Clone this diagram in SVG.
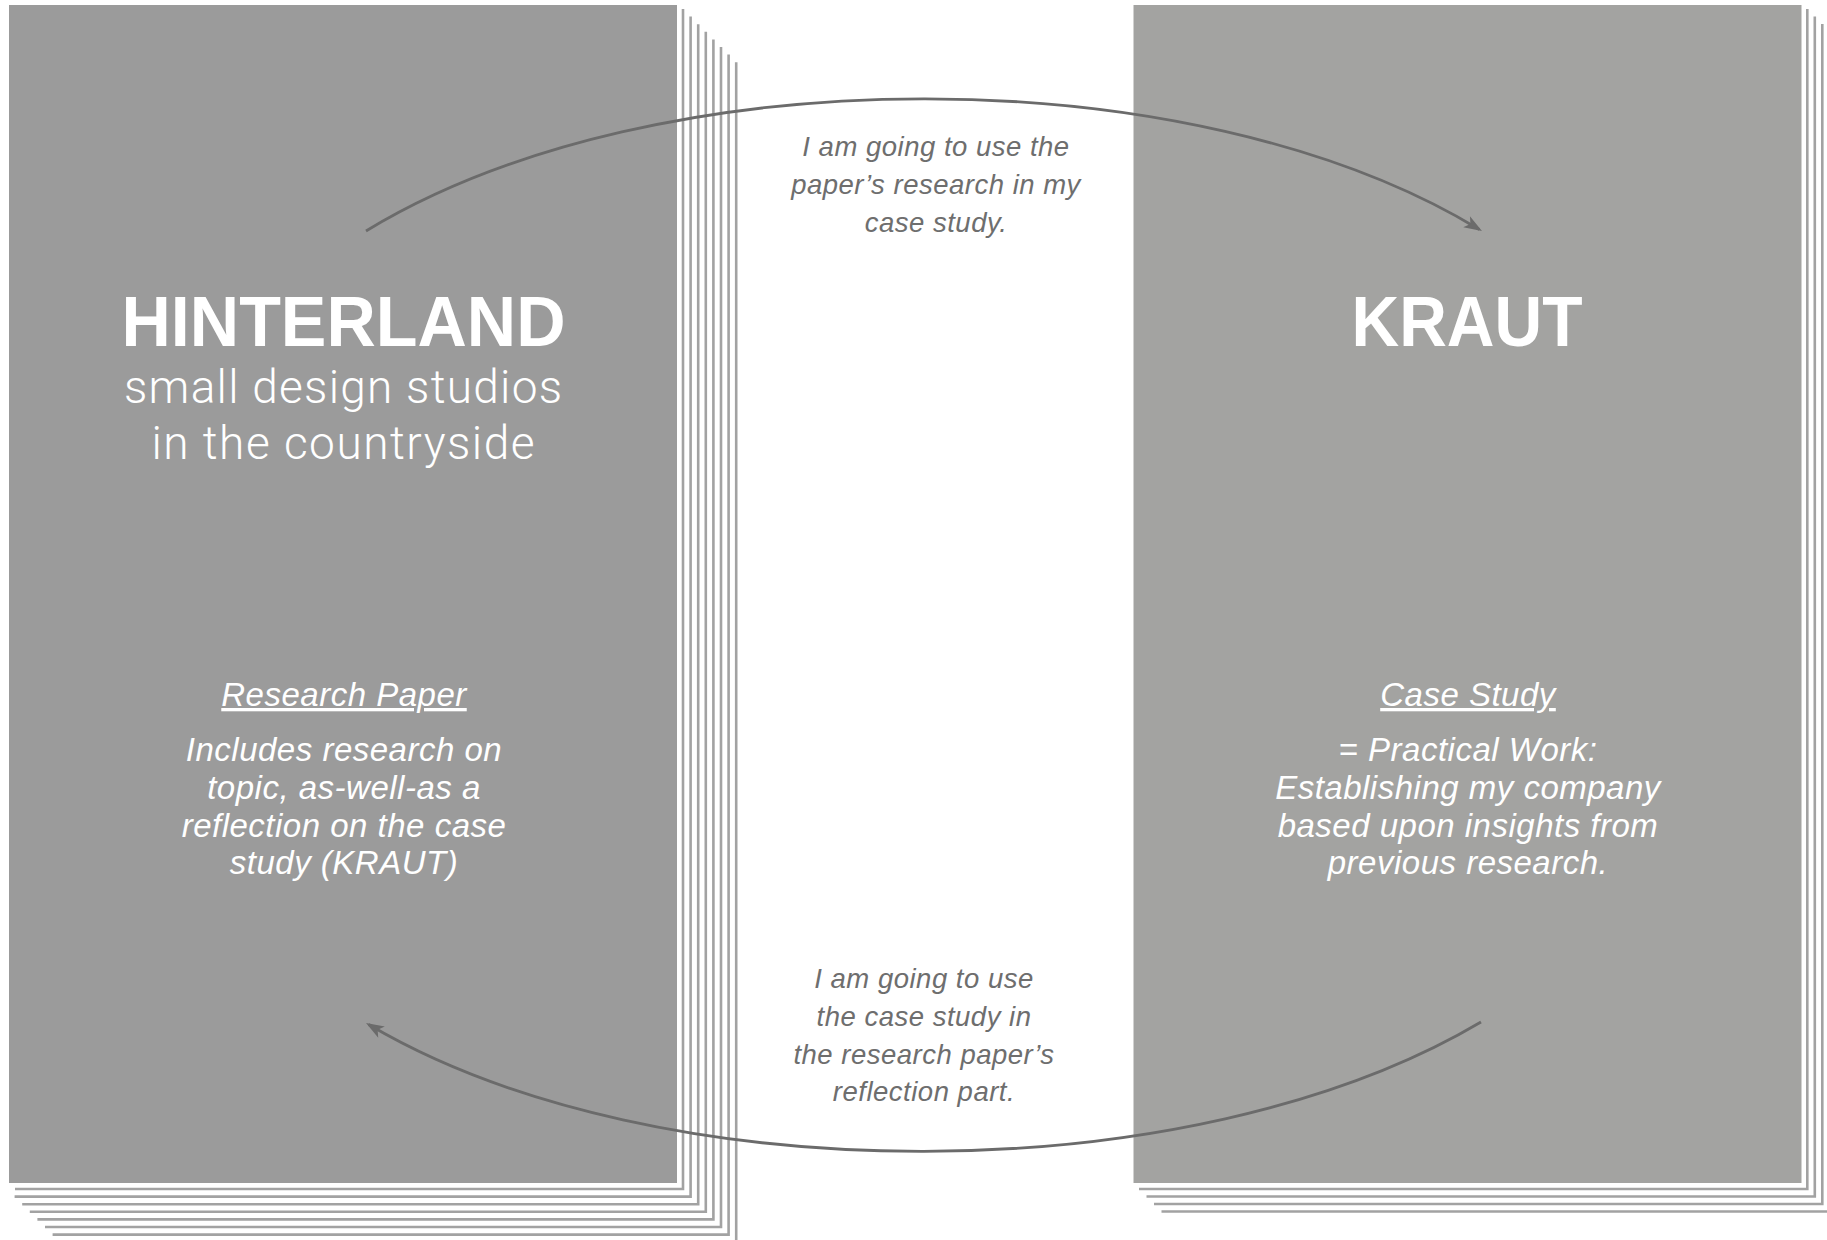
<svg xmlns="http://www.w3.org/2000/svg" width="1827" height="1240" viewBox="0 0 1827 1240">
<defs>
<style>
.page{fill:none;stroke:#a2a2a2;stroke-width:2.6;stroke-linejoin:miter}
.title{font-family:"Liberation Sans",Arial,Helvetica,sans-serif;font-weight:bold;font-size:70px;fill:#ffffff;text-anchor:middle}
.sub{font-family:Roboto,"Liberation Sans",Arial,sans-serif;font-weight:300;font-size:46px;fill:#ffffff;text-anchor:middle}
.body{font-family:"Liberation Sans",Arial,Helvetica,sans-serif;font-style:italic;font-size:33px;letter-spacing:0.5px;fill:#ffffff;text-anchor:middle}
.head{text-decoration:underline}
.note{font-family:"Liberation Sans",Arial,Helvetica,sans-serif;font-style:italic;font-size:27.5px;letter-spacing:0.5px;fill:#6e6e6e;text-anchor:middle}
.arc{fill:none;stroke:#6b6b6b;stroke-width:2.8;marker-end:url(#ah)}
</style>
<marker id="ah" markerUnits="userSpaceOnUse" markerWidth="30" markerHeight="20" viewBox="-20 -10 30 20" refX="0" refY="0" orient="auto" overflow="visible">
<path d="M3,0 L-15,-6.5 L-10.5,0 L-15,6.5 Z" fill="#6b6b6b"/>
</marker>
</defs>
<rect width="1827" height="1240" fill="#ffffff"/>

<g id="hinterland">
<g id="hinterland-pages">
<path class="page" d="M736.2,62.2 V1242 H60.2"/>
<path class="page" d="M728.6,54.6 V1234.6 H52.6"/>
<path class="page" d="M721,47 V1227 H45"/>
<path class="page" d="M713.4,39.4 V1219.4 H37.4"/>
<path class="page" d="M705.8,31.8 V1211.8 H29.8"/>
<path class="page" d="M698.2,24.2 V1204.2 H22.2"/>
<path class="page" d="M690.6,16.6 V1196.6 H14.6"/>
<path class="page" d="M683,9 V1189 H15"/>
</g>
<rect x="9" y="5" width="668" height="1178" fill="#9b9b9b"/>
<text class="title" x="343.5" y="346" textLength="444" lengthAdjust="spacingAndGlyphs">HINTERLAND</text>
<text class="sub" x="343" y="403" textLength="438">small design studios</text>
<text class="sub" x="343" y="459" textLength="383">in the countryside</text>
<text class="body head" x="344" y="706">Research Paper</text>
<text class="body" x="344" y="761">Includes research on</text>
<text class="body" x="344" y="799">topic, as-well-as a</text>
<text class="body" x="344" y="837">reflection on the case</text>
<text class="body" x="344" y="874">study (KRAUT)</text>
</g>

<g id="kraut">
<g id="kraut-pages">
<path class="page" d="M1829.8,31.5 V1211.5 H1161.5"/>
<path class="page" d="M1822.3,24 V1204 H1154"/>
<path class="page" d="M1814.8,16.5 V1196.5 H1146.5"/>
<path class="page" d="M1807.3,9 V1189 H1139"/>
</g>
<rect x="1133.5" y="5" width="668" height="1178" fill="#a3a3a1"/>
<text class="title" x="1467" y="346" textLength="231" lengthAdjust="spacingAndGlyphs">KRAUT</text>
<text class="body head" x="1468" y="706">Case Study</text>
<text class="body" x="1468" y="761">= Practical Work:</text>
<text class="body" x="1468" y="799">Establishing my company</text>
<text class="body" x="1468" y="837">based upon insights from</text>
<text class="body" x="1468" y="874">previous research.</text>
</g>

<g id="connectors">
<path id="arc-top" class="arc" d="M366,231 C656,55 1192,55 1479.4,229.5"/>
<path id="arc-bottom" class="arc" d="M1481,1022 C1191,1194 656,1194 368.6,1024.5"/>
<g id="label-top">
<text class="note" x="936" y="156">I am going to use the</text>
<text class="note" x="936" y="194">paper’s research in my</text>
<text class="note" x="936" y="232">case study.</text>
</g>
<g id="label-bottom">
<text class="note" x="924" y="988">I am going to use</text>
<text class="note" x="924" y="1026">the case study in</text>
<text class="note" x="924" y="1064">the research paper’s</text>
<text class="note" x="924" y="1101">reflection part.</text>
</g>
</g>
</svg>
